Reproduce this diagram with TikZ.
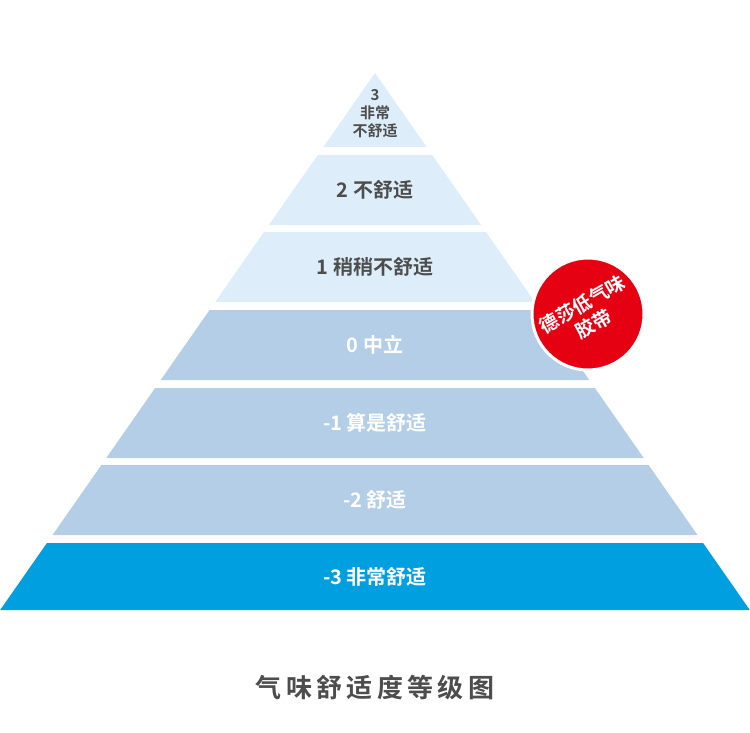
\documentclass[tikz,border=0pt]{standalone}
\usepackage{fontspec}
\setmainfont{Noto Sans CJK SC}[BoldFont={* Bold}]
\definecolor{palelayer}{HTML}{DDEEFA}
\definecolor{midlayer}{HTML}{B3CEE6}
\definecolor{deeplayer}{HTML}{009FE0}
\definecolor{labelgray}{HTML}{4D4D4D}
\definecolor{badgered}{HTML}{E50012}
\tikzset{
  layertext/.style={font=\bfseries\fontsize{20}{24}\selectfont, align=center},
}
\begin{document}
\begin{tikzpicture}[x=1pt, y=-1pt]
\useasboundingbox (0,0) rectangle (750,733);
% Layers
  \foreach \top/\bot/\fillc/\textc/\name/\txt in {
      73/147/palelayer/labelgray/lvlA/{},
      155/225/palelayer/labelgray/lvlB/2 不舒适,
      232/302/palelayer/labelgray/lvlC/1 稍稍不舒适,
      310/380/midlayer/white/lvlD/0 中立,
      388/458/midlayer/white/lvlE/-1 算是舒适,
      465/535/midlayer/white/lvlF/-2 舒适,
      543/610/deeplayer/white/lvlG/-3 非常舒适}{
    \pgfmathsetmacro\wt{(\top-73)*0.698}
    \pgfmathsetmacro\wb{(\bot-73)*0.698}
    \fill[\fillc] (375-\wt,\top) -- (375+\wt,\top) -- (375+\wb,\bot) -- (375-\wb,\bot) -- cycle;
    \node[layertext, text=\textc] (\name) at (375,{(\top+\bot)/2}) {\txt};
  }
  \node[layertext, text=labelgray, font=\bfseries\fontsize{15}{18}\selectfont] (apex) at (375,114) {3\\非常\\不舒适};
% Badge
  \node[circle, fill=badgered, draw=white, line width=3pt, minimum size=112pt] (badge) at (588,314) {};
  \node[text=white, font=\bfseries\fontsize{19}{23}\selectfont, align=center, rotate=30, inner sep=0pt] (badgetxt) at (badge) {德莎低气味\\胶带};
% Caption
  \node[text=labelgray, font=\bfseries\fontsize{26}{30}\selectfont] (caption) at (375,688) {气\,味\,舒\,适\,度\,等\,级\,图};
\end{tikzpicture}
\end{document}
